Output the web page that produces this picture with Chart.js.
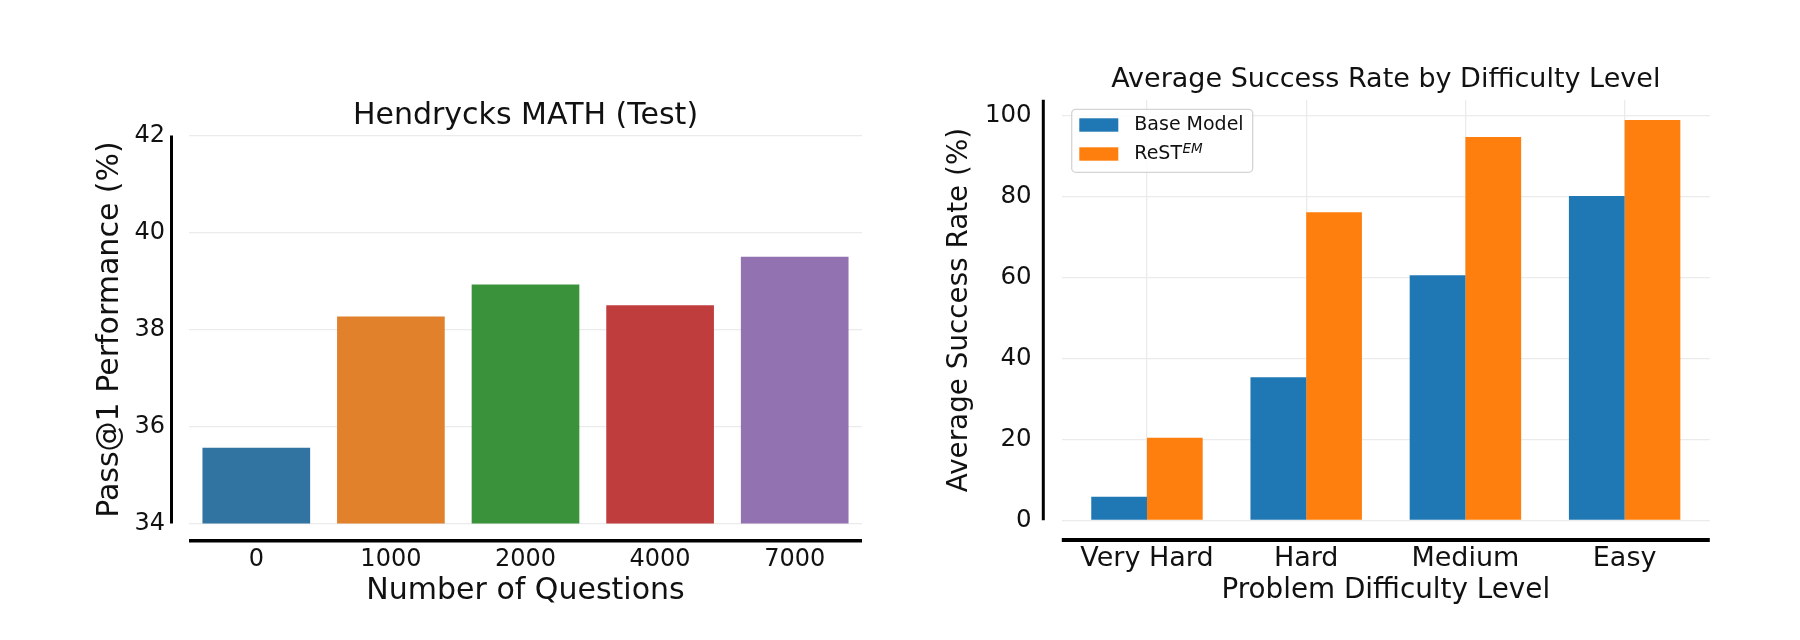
<!DOCTYPE html>
<html>
<head>
<meta charset="utf-8">
<script src="https://cdn.jsdelivr.net/npm/chart.js@4.4.1/dist/chart.umd.min.js"></script>
<style>
  html, body { margin: 0; padding: 0; background: #fff; }
  #wrap { position: relative; width: 1800px; height: 640px; }
  canvas { position: absolute; top: 0; }
</style>
</head>
<body>
<div id="wrap">
  <canvas id="mathChart" width="900" height="640" style="left:0"></canvas>
  <canvas id="difficultyChart" width="900" height="640" style="left:900px"></canvas>
</div>
<script>
// left panel: pass@1 on Hendrycks MATH vs number of questions
const questionCounts = ["0", "1000", "2000", "4000", "7000"]
const passAt1 = [35.56, 38.27, 38.93, 38.50, 39.50]
const passTicks = [34, 36, 38, 40, 42]

// right panel: success rate per difficulty level
const difficultyLevels = ["Very Hard", "Hard", "Medium", "Easy"]
const seriesNames = ["Base Model", "ReST^EM"]
const baseModelRates = [5.8, 35.4, 60.6, 80.2]
const restEmRates = [20.4, 76.2, 94.8, 99.0]
const rateTicks = [0, 20, 40, 60, 80, 100]

const FONT = "'DejaVu Sans', sans-serif"
const TEXT = "#111"
const GRID = "#ebebeb"

const barColors = ["#3274a1", "#e1812c", "#3a923a", "#c03d3e", "#9372b2"]

/**
 * Thick black spines, pushed out from the plot like sns.despine(offset=...)
 */
const spinesPlugin = {
  id: "spines",
  afterDraw(chart, args, opts) {
    const { ctx, chartArea } = chart
    ctx.save()
    ctx.strokeStyle = "#000"
    ctx.lineCap = "butt"

    const x = chartArea.left - opts.yOffset
    ctx.lineWidth = opts.yWidth
    ctx.beginPath()
    ctx.moveTo(x, chartArea.top)
    ctx.lineTo(x, chartArea.bottom)
    ctx.stroke()

    const y = chartArea.bottom + opts.xOffset
    ctx.lineWidth = opts.xWidth
    ctx.beginPath()
    ctx.moveTo(chartArea.left, y)
    ctx.lineTo(chartArea.right, y)
    ctx.stroke()
    ctx.restore()
  }
}

/**
 * Framed legend inside the plot, upper left. "^" in a label marks
 * a superscript (ReST^EM).
 */
const boxLegendPlugin = {
  id: "boxLegend",
  afterDatasetsDraw(chart, args, opts) {
    if (!opts.display) return
    const { ctx, chartArea } = chart
    const x0 = chartArea.left + opts.x
    const y0 = chartArea.top + opts.y

    ctx.save()
    ctx.beginPath()
    ctx.roundRect(x0, y0, opts.width, opts.height, 4)
    ctx.fillStyle = "rgba(255,255,255,0.85)"
    ctx.fill()
    ctx.strokeStyle = "#d4d4d4"
    ctx.lineWidth = 1.3
    ctx.stroke()

    chart.data.datasets.forEach((ds, i) => {
      const cy = y0 + opts.firstRow + i * opts.rowGap
      ctx.fillStyle = ds.backgroundColor
      ctx.fillRect(x0 + opts.swatchX, cy - 6.7, 39, 13.4)

      const [main, sup] = ds.label.split("^")
      const tx = x0 + opts.textX
      ctx.fillStyle = TEXT
      ctx.textBaseline = "middle"
      ctx.font = "19px " + FONT
      ctx.fillText(main, tx, cy)
      if (sup) {
        const w = ctx.measureText(main).width
        ctx.font = "italic 13.5px " + FONT
        ctx.fillText(sup, tx + w + 0.5, cy - 4.5)
      }
    })
    ctx.restore()
  }
}

new Chart(document.getElementById("mathChart"), {
  type: "bar",
  data: {
    labels: questionCounts,
    datasets: [{
      label: "Pass@1",
      data: passAt1,
      backgroundColor: barColors,
      borderWidth: 0,
      categoryPercentage: 0.8,
      barPercentage: 1
    }]
  },
  options: {
    responsive: false,
    animation: false,
    layout: { padding: { left: 92, right: 38, top: 98.3, bottom: 30.7 } },
    plugins: {
      legend: { display: false },
      tooltip: { enabled: false },
      title: {
        display: true,
        text: "Hendrycks MATH (Test)",
        fullSize: false,
        color: TEXT,
        font: { family: FONT, size: 30, weight: "normal" },
        padding: { top: 0, bottom: 1.2 }
      },
      spines: { yOffset: 17.5, xOffset: 17.2, yWidth: 3, xWidth: 3.5 }
    },
    scales: {
      x: {
        grid: { display: false, drawTicks: false },
        border: { display: false },
        ticks: { color: TEXT, padding: 21.8, font: { family: FONT, size: 24 } },
        title: {
          display: true,
          text: "Number of Questions",
          color: TEXT,
          font: { family: FONT, size: 30 },
          padding: 0
        },
        afterFit: s => { s.height = 85.8 }
      },
      y: {
        min: 34,
        max: 42,
        afterBuildTicks: s => { s.ticks = passTicks.map(v => ({ value: v })) },
        grid: { color: GRID, lineWidth: 1.3, drawTicks: true, tickLength: 24, tickColor: "rgba(0,0,0,0)" },
        border: { display: false },
        ticks: { color: TEXT, padding: 0, font: { family: FONT, size: 24 } },
        title: {
          display: true,
          text: "Pass@1 Performance (%)",
          color: TEXT,
          font: { family: FONT, size: 30 },
          padding: 0
        },
        afterFit: s => { s.width = 97 }
      }
    }
  },
  plugins: [spinesPlugin]
})

new Chart(document.getElementById("difficultyChart"), {
  type: "bar",
  data: {
    datasets: [
      {
        label: seriesNames[0],
        data: baseModelRates.map((v, i) => ({ x: i, y: v })),
        backgroundColor: "#1f77b4",
        borderWidth: 0,
        categoryPercentage: 0.7,
        barPercentage: 1
      },
      {
        label: seriesNames[1],
        data: restEmRates.map((v, i) => ({ x: i, y: v })),
        backgroundColor: "#ff7f0e",
        borderWidth: 0,
        categoryPercentage: 0.7,
        barPercentage: 1
      }
    ]
  },
  options: {
    responsive: false,
    animation: false,
    layout: { padding: { left: 43.3, right: 90.2, top: 63.3, bottom: 32.9 } },
    plugins: {
      legend: { display: false },
      tooltip: { enabled: false },
      title: {
        display: true,
        text: "Average Success Rate by Difficulty Level",
        fullSize: false,
        color: TEXT,
        font: { family: FONT, size: 27, weight: "normal" },
        padding: { top: 0, bottom: 4.1 }
      },
      spines: { yOffset: 18.5, xOffset: 19.7, yWidth: 3, xWidth: 4 },
      boxLegend: {
        display: true, x: 9.9, y: 9.5, width: 181, height: 63,
        swatchX: 7.6, textX: 62.6, firstRow: 15.7, rowGap: 29
      }
    },
    scales: {
      x: {
        type: "linear",
        min: -0.535,
        max: 3.535,
        offset: false,
        afterBuildTicks: s => { s.ticks = difficultyLevels.map((_, i) => ({ value: i })) },
        grid: { color: GRID, lineWidth: 1.3, drawTicks: false, offset: false },
        border: { display: false },
        ticks: {
          color: TEXT,
          padding: 22.5,
          font: { family: FONT, size: 27 },
          callback: v => difficultyLevels[v]
        },
        title: {
          display: true,
          text: "Problem Difficulty Level",
          color: TEXT,
          font: { family: FONT, size: 27.8 },
          padding: 0
        },
        afterFit: s => { s.height = 86.8 }
      },
      y: {
        min: 0,
        max: 104,
        afterBuildTicks: s => { s.ticks = rateTicks.map(v => ({ value: v })) },
        grid: { color: GRID, lineWidth: 1.3, drawTicks: true, tickLength: 30.1, tickColor: "rgba(0,0,0,0)" },
        border: { display: false },
        ticks: { color: TEXT, padding: 0, font: { family: FONT, size: 24.5 } },
        title: {
          display: true,
          text: "Average Success Rate (%)",
          color: TEXT,
          font: { family: FONT, size: 27.8 },
          padding: 0
        },
        afterFit: s => { s.width = 118.5 }
      }
    }
  },
  plugins: [spinesPlugin, boxLegendPlugin]
})
</script>
</body>
</html>
